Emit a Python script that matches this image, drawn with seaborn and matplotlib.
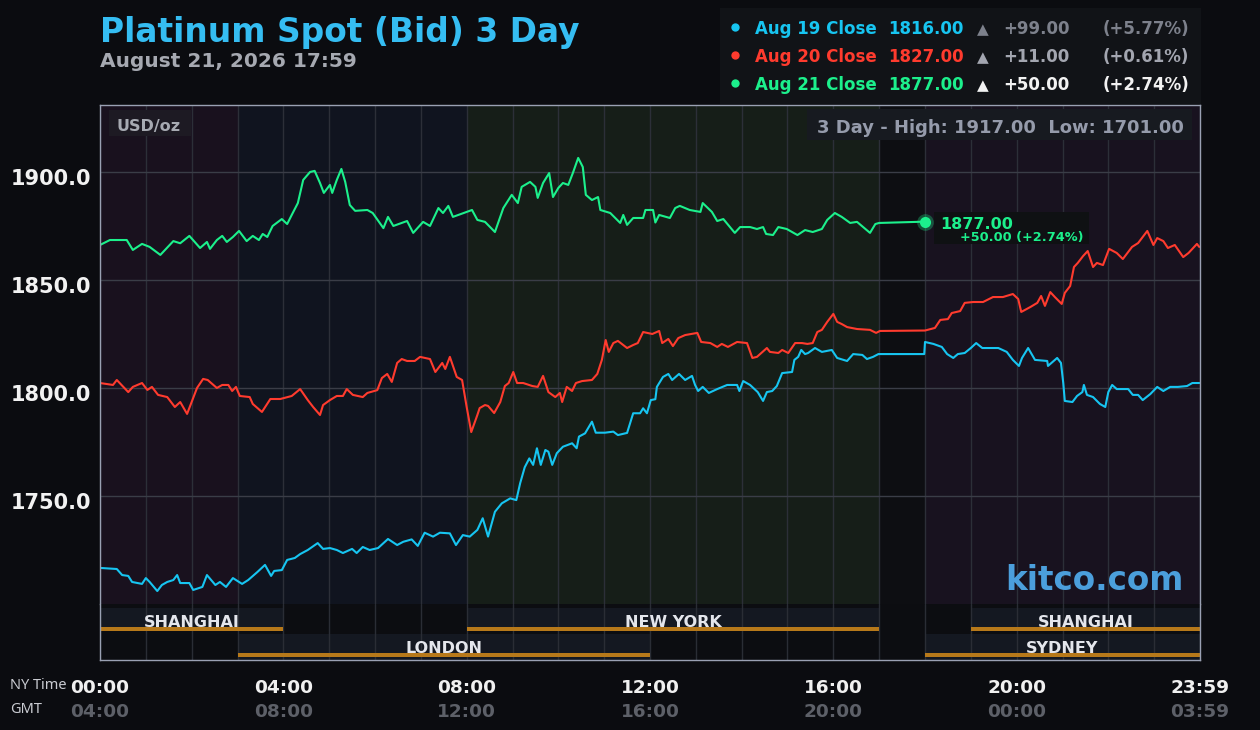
import numpy as np
import pandas as pd
import matplotlib
matplotlib.use("Agg")
import matplotlib.pyplot as plt
import seaborn as sns
from matplotlib.patches import Rectangle
from matplotlib.lines import Line2D
from matplotlib.transforms import ScaledTranslation, blended_transform_factory

# ------------------------------------------------------------
# data: minutes after NY midnight -> bid price (USD/oz)
# ------------------------------------------------------------
aug19_min = [0, 22, 29, 37, 42, 55, 60, 65, 75, 81,
             88, 96, 101, 105, 117, 122, 134, 140, 151, 157,
             165, 174, 186, 194, 206, 216, 224, 228, 238, 245,
             255, 262, 272, 285, 292, 301, 310, 318, 330, 336,
             344, 353, 364, 377, 389, 397, 408, 416, 425, 436,
             445, 458, 466, 475, 484, 494, 501, 508, 517, 526,
             537, 545, 550, 556, 562, 567, 572, 577, 583, 587,
             592, 598, 606, 618, 624, 627, 635, 644, 649, 661,
             672, 678, 690, 698, 707, 711, 716, 721, 727, 729,
             737, 744, 749, 758, 766, 775, 779, 783, 789, 797,
             808, 821, 834, 837, 842, 851, 861, 868, 873, 880,
             886, 893, 906, 909, 914, 918, 923, 927, 936, 945,
             958, 965, 978, 986, 998, 1004, 1012, 1019, 1079, 1080,
             1091, 1102, 1109, 1117, 1123, 1132, 1140, 1147, 1155, 1176,
             1187, 1195, 1203, 1207, 1215, 1224, 1240, 1241, 1253, 1258,
             1261, 1263, 1273, 1279, 1286, 1288, 1292, 1300, 1309, 1316,
             1320, 1325, 1331, 1346, 1352, 1359, 1365, 1375, 1384, 1392,
             1401, 1411, 1423, 1430, 1439]
aug19_bid = [1716.7, 1716.2, 1713.4, 1713.0, 1710.2, 1709.3, 1712.0, 1710.2, 1706.0, 1708.8,
             1710.2, 1711.1, 1713.4, 1709.7, 1709.7, 1706.5, 1707.9, 1713.4, 1708.8, 1710.2,
             1707.9, 1712.0, 1709.3, 1711.1, 1714.8, 1718.1, 1713.0, 1715.3, 1715.7, 1720.4,
             1721.3, 1723.1, 1725.0, 1728.2, 1725.5, 1725.9, 1725.0, 1723.6, 1725.5, 1723.6,
             1726.4, 1725.0, 1725.9, 1730.1, 1727.3, 1728.8, 1729.9, 1726.9, 1733.0, 1731.2,
             1733.0, 1732.7, 1727.3, 1731.9, 1731.2, 1734.3, 1739.7, 1731.2, 1742.7, 1746.6,
             1748.9, 1748.1, 1755.9, 1763.3, 1767.4, 1764.4, 1772.1, 1764.4, 1771.3, 1770.5,
             1764.4, 1769.8, 1772.8, 1774.4, 1772.1, 1777.5, 1779.0, 1784.4, 1779.3, 1779.3,
             1779.8, 1778.2, 1779.2, 1788.3, 1788.3, 1790.6, 1788.3, 1794.4, 1794.8, 1800.5,
             1805.1, 1806.5, 1803.7, 1806.5, 1803.7, 1805.6, 1801.4, 1798.6, 1800.5, 1797.7,
             1799.5, 1801.4, 1801.4, 1798.6, 1803.2, 1801.4, 1798.1, 1794.0, 1798.1, 1798.6,
             1800.9, 1806.9, 1807.4, 1813.0, 1814.4, 1817.6, 1815.7, 1816.2, 1818.5, 1816.7,
             1817.6, 1813.9, 1812.5, 1815.7, 1815.3, 1813.4, 1814.4, 1815.7, 1815.7, 1821.3,
             1820.4, 1819.0, 1815.7, 1813.9, 1815.7, 1816.2, 1818.5, 1820.8, 1818.5, 1818.5,
             1816.7, 1813.0, 1810.2, 1813.9, 1818.5, 1813.0, 1812.5, 1810.2, 1813.9, 1811.6,
             1802.3, 1794.0, 1793.5, 1796.3, 1798.1, 1801.4, 1796.8, 1795.8, 1792.6, 1791.2,
             1798.1, 1801.4, 1799.5, 1799.5, 1796.8, 1796.8, 1794.4, 1797.2, 1800.5, 1798.6,
             1800.5, 1800.5, 1800.9, 1802.3, 1802.3]

aug20_min = [0, 17, 22, 37, 43, 55, 62, 68, 76, 88,
             98, 105, 114, 127, 135, 141, 153, 160, 168, 173,
             178, 183, 196, 200, 212, 223, 236, 251, 262, 272,
             279, 288, 292, 301, 310, 318, 323, 331, 344, 350,
             363, 369, 376, 382, 389, 395, 402, 412, 419, 432,
             439, 448, 452, 458, 467, 474, 480, 486, 494, 497,
             504, 508, 516, 524, 530, 535, 541, 546, 554, 566,
             573, 580, 587, 596, 602, 605, 611, 618, 623, 631,
             644, 651, 657, 662, 666, 672, 678, 690, 698, 704,
             711, 723, 732, 736, 744, 750, 757, 766, 782, 787,
             799, 808, 814, 822, 834, 847, 854, 860, 873, 877,
             888, 893, 901, 910, 919, 926, 933, 939, 945, 952,
             960, 965, 971, 978, 991, 1008, 1016, 1021, 1080, 1093,
             1100, 1110, 1115, 1126, 1132, 1143, 1156, 1169, 1182, 1195,
             1202, 1206, 1218, 1227, 1232, 1237, 1244, 1250, 1259, 1263,
             1270, 1275, 1280, 1287, 1293, 1300, 1305, 1313, 1321, 1331,
             1339, 1351, 1359, 1371, 1379, 1384, 1392, 1398, 1407, 1418,
             1425, 1436, 1439]
aug20_bid = [1802.3, 1801.4, 1803.7, 1798.1, 1800.5, 1802.3, 1799.1, 1800.5, 1796.8, 1795.8,
             1791.2, 1793.5, 1788.0, 1800.0, 1804.2, 1803.7, 1800.0, 1801.4, 1801.4, 1798.6,
             1800.5, 1796.3, 1795.8, 1792.6, 1788.9, 1794.9, 1794.9, 1796.3, 1799.5, 1794.4,
             1791.2, 1787.5, 1792.1, 1794.4, 1796.3, 1796.3, 1799.5, 1796.8, 1795.8, 1797.7,
             1799.0, 1804.6, 1806.5, 1802.8, 1811.6, 1813.4, 1812.5, 1812.5, 1814.4, 1813.4,
             1807.4, 1811.6, 1808.8, 1814.4, 1805.1, 1803.7, 1791.2, 1779.6, 1787.5, 1790.7,
             1792.1, 1791.7, 1788.4, 1793.5, 1800.9, 1802.3, 1807.4, 1802.3, 1802.3, 1800.9,
             1800.5, 1805.6, 1798.1, 1795.8, 1797.7, 1793.5, 1800.5, 1798.6, 1802.3, 1803.2,
             1803.7, 1806.5, 1813.0, 1822.2, 1816.7, 1820.8, 1821.8, 1818.5, 1819.9, 1820.8,
             1825.9, 1825.0, 1826.4, 1820.8, 1822.7, 1819.4, 1823.1, 1824.5, 1825.5, 1821.3,
             1820.8, 1819.0, 1820.4, 1819.0, 1821.3, 1820.8, 1813.9, 1814.4, 1818.5, 1816.7,
             1816.2, 1817.6, 1816.2, 1820.8, 1820.8, 1820.4, 1820.8, 1825.9, 1826.9, 1830.6,
             1834.3, 1830.6, 1829.6, 1828.2, 1827.3, 1826.9, 1825.5, 1826.4, 1826.6, 1827.8,
             1831.5, 1831.9, 1834.7, 1835.6, 1839.4, 1839.8, 1839.8, 1842.1, 1842.1, 1843.5,
             1841.2, 1835.2, 1837.5, 1839.4, 1842.6, 1838.0, 1844.4, 1842.1, 1838.9, 1844.0,
             1847.2, 1856.0, 1857.9, 1861.1, 1863.4, 1856.0, 1857.9, 1856.9, 1864.4, 1862.5,
             1859.7, 1865.3, 1867.1, 1872.7, 1866.2, 1869.4, 1868.0, 1864.8, 1866.2, 1860.6,
             1862.5, 1866.7, 1865.3]

aug21_min = [0, 13, 35, 43, 55, 65, 79, 96, 105, 117,
             131, 140, 144, 153, 160, 166, 174, 182, 192, 200,
             208, 213, 219, 226, 238, 245, 251, 259, 266, 275,
             281, 288, 293, 301, 304, 310, 316, 321, 327, 334,
             350, 357, 371, 377, 384, 402, 410, 423, 432, 443,
             449, 456, 462, 480, 487, 494, 504, 517, 528, 539,
             547, 552, 563, 570, 573, 580, 588, 593, 600, 606,
             613, 619, 626, 632, 636, 644, 652, 655, 668, 681,
             685, 690, 698, 711, 714, 724, 727, 732, 746, 753,
             759, 772, 786, 789, 801, 808, 816, 831, 838, 851,
             860, 868, 872, 881, 888, 899, 913, 923, 933, 945,
             952, 962, 971, 982, 991, 999, 1008, 1015, 1020, 1080]
aug21_bid = [1866.2, 1868.5, 1868.5, 1863.9, 1866.7, 1865.3, 1861.6, 1868.0, 1867.0, 1870.4,
             1864.8, 1867.6, 1864.4, 1868.5, 1870.4, 1867.6, 1869.9, 1872.7, 1868.0, 1870.4,
             1868.5, 1871.3, 1869.9, 1875.0, 1878.2, 1875.9, 1880.1, 1885.6, 1896.3, 1900.0,
             1900.5, 1894.9, 1890.3, 1894.0, 1890.3, 1896.3, 1901.4, 1895.4, 1884.7, 1882.0,
             1882.4, 1881.0, 1874.0, 1879.2, 1875.0, 1877.3, 1871.8, 1876.9, 1875.0, 1883.3,
             1881.0, 1884.3, 1879.2, 1881.5, 1882.4, 1877.8, 1876.9, 1872.2, 1883.3, 1889.4,
             1885.6, 1893.1, 1895.4, 1893.1, 1888.0, 1894.9, 1899.5, 1888.4, 1892.6, 1894.9,
             1894.0, 1899.5, 1906.5, 1902.3, 1889.4, 1887.0, 1888.4, 1882.4, 1881.0, 1876.4,
             1880.1, 1875.5, 1878.7, 1878.7, 1882.4, 1882.4, 1876.6, 1880.1, 1878.7, 1883.3,
             1884.3, 1882.4, 1881.5, 1885.6, 1881.5, 1877.3, 1878.2, 1871.8, 1874.5, 1874.5,
             1873.6, 1874.5, 1871.3, 1870.8, 1874.5, 1873.6, 1870.8, 1873.1, 1872.2, 1873.6,
             1877.8, 1881.0, 1879.2, 1876.4, 1876.9, 1874.5, 1871.8, 1875.9, 1876.4, 1877.0]

days = ["Aug 19", "Aug 20", "Aug 21"]
day_close = [1816.00, 1827.00, 1877.00]
day_change = [99.00, 11.00, 50.00]
day_pct = [5.77, 0.61, 2.74]
high_3d, low_3d = 1917.00, 1701.00

y_ticks = [1750, 1800, 1850, 1900]
ny_hours = [0, 4, 8, 12, 16, 20, 24]
ny_labels = ["00:00", "04:00", "08:00", "12:00", "16:00", "20:00", "23:59"]
gmt_labels = ["04:00", "08:00", "12:00", "16:00", "20:00", "00:00", "03:59"]

zone_start = [0, 3, 8, 17, 18]
zone_end = [3, 8, 17, 18, 24]
session_names = ["SHANGHAI", "LONDON", "NEW YORK", "SYDNEY", "SHANGHAI"]
session_start = [0, 3, 8, 18, 19]
session_end = [4, 12, 17, 24, 24]
session_row = [1, 0, 1, 0, 1]   # 1 = upper row, 0 = lower row

# ------------------------------------------------------------
# style
# ------------------------------------------------------------
BG = "#0b0c10"
line_colors = ["#17c5f1", "#ff3b2e", "#1cf08c"]
zone_colors = ["#19111e", "#10141f", "#161e18", "#0d0e12", "#18121f"]
FRAME = "#9aa1b3"

sns.set_style("dark")
plt.rcParams['font.family'] = ['DejaVu Sans']

W, H = 1260, 730


def fx(x):
    return x / W


def fy(y):
    return 1 - y / H


fig = plt.figure(figsize=(12.6, 7.3), dpi=100, facecolor=BG)


def box(x0, y0, x1, y1, color):
    fig.add_artist(Rectangle((fx(x0), fy(y1)), (x1 - x0) / W, (y1 - y0) / H,
                             transform=fig.transFigure, facecolor=color,
                             edgecolor='none', zorder=2))


def label(x, y, s, **kw):
    kw.setdefault('va', 'baseline')
    kw.setdefault('fontweight', 'bold')
    fig.text(fx(x), fy(y), s, zorder=4, **kw)


ax = fig.add_axes([fx(100), fy(604), 1100 / W, 499 / H])
ax2 = fig.add_axes([fx(100), fy(660), 1100 / W, 56 / H], sharex=ax)

# ---- price panel ----
ax.set_facecolor(BG)
for s, e, c in zip(zone_start, zone_end, zone_colors):
    ax.axvspan(s, e, color=c, lw=0, zorder=0.1)

frames = []
for d, mins, bids in zip(days, [aug19_min, aug20_min, aug21_min],
                         [aug19_bid, aug20_bid, aug21_bid]):
    assert len(mins) == len(bids)
    frames.append(pd.DataFrame({'day': d, 'hour': np.array(mins) / 60.0, 'bid': bids}))
df = pd.concat(frames, ignore_index=True)

sns.lineplot(data=df, x='hour', y='bid', hue='day', palette=dict(zip(days, line_colors)),
             estimator=None, sort=False, legend=False, linewidth=1.5, ax=ax)

# last price marker
last_h = aug21_min[-1] / 60.0
ax.plot(last_h, aug21_bid[-1], 'o', ms=12, color=line_colors[2], alpha=0.3, mec='none', zorder=5)
ax.plot(last_h, aug21_bid[-1], 'o', ms=8, color=line_colors[2], mec='none', zorder=6)

ax.set_xlim(0, 24)
ax.set_ylim(1700, 1931)
ax.set_xticks(ny_hours)
ax.set_xticks(range(25), minor=True)
ax.set_axisbelow(True)
ax.grid(axis='x', which='both', color='#2c2f38', lw=1)
ax.grid(axis='y', color='#3a3d47', lw=1)
ax.set_yticks(y_ticks)
ax.set_yticklabels([f"{v:.1f}" for v in y_ticks])
ax.tick_params(axis='y', length=0, pad=6.5, labelsize=15, labelcolor='#f2f2f2')
ax.tick_params(axis='x', which='both', length=0, labelbottom=False)
for lab in ax.get_yticklabels():
    lab.set_fontweight('bold')
    lab.set_transform(lab.get_transform() + ScaledTranslation(0, -0.05, fig.dpi_scale_trans))
ax.set_xlabel("")
ax.set_ylabel("")
for side in ['left', 'top', 'right']:
    ax.spines[side].set_color(FRAME)
    ax.spines[side].set_linewidth(1)
ax.spines['bottom'].set_visible(False)

# ---- session panel ----
ax2.set_facecolor('#0c0d11')
ax2.set_ylim(0, 56)
ax2.set_yticks([])
for name, s, e, r in zip(session_names, session_start, session_end, session_row):
    y0, h, yo = (29, 23, 29) if r == 1 else (0, 26, 3)
    ax2.add_patch(Rectangle((s, y0), e - s, h, facecolor='#141821', edgecolor='none', zorder=0.2))
    ax2.add_patch(Rectangle((s, yo), e - s, 4, facecolor='#b7791a', edgecolor='none', zorder=0.8))
    ax2.text((s + e) / 2, yo + 4, name, ha='center', va='baseline', fontsize=11.5,
             fontweight='bold', color='#e4e6ec', zorder=4)
ax2.set_axisbelow(True)
ax2.grid(axis='x', which='both', color='#2a2d35', lw=1)
ax2.set_xticklabels(ny_labels)
ax2.tick_params(axis='x', which='both', length=0, pad=13.5, labelsize=13.3, labelcolor='#f0f0f0')
for lab in ax2.get_xticklabels():
    lab.set_fontweight('bold')
trans = blended_transform_factory(ax2.transData, fig.transFigure)
for h, g in zip(ny_hours, gmt_labels):
    ax2.text(h, fy(717), g, transform=trans, ha='center', va='baseline', fontsize=13.3,
             fontweight='bold', color='#5d6068', clip_on=False)
ax2.set_xlabel("")
for side in ['left', 'bottom', 'right']:
    ax2.spines[side].set_color(FRAME)
    ax2.spines[side].set_linewidth(1)
ax2.spines['top'].set_visible(False)

label(10, 689, "NY Time", family=['Noto Sans', 'DejaVu Sans'], fontweight='normal',
      fontsize=10.5, color='#c9cbd1')
label(10, 713, "GMT", family=['Noto Sans', 'DejaVu Sans'], fontweight='normal',
      fontsize=10.5, color='#c9cbd1')

# ---- titles ----
label(100, 41.7, "Platinum Spot (Bid) 3 Day", fontsize=23.7, color='#35bdf2')
label(100, 66.7, "August 21, 2026 17:59", fontsize=14.5, color='#a6a9b1')

# ---- legend block ----
box(720, 8, 1201, 104, '#111317')
row_grey = ['#7d818c', '#a3a6b0', '#f2f2f2']
for i, (d, cl, ch, pc, c) in enumerate(zip(days, day_close, day_change, day_pct, line_colors)):
    yb = 34 + 28 * i
    fig.add_artist(Line2D([fx(735)], [fy(yb - 7)], marker='o', ms=6, color=c, mec='none',
                          transform=fig.transFigure, zorder=4))
    label(755, yb, f"{d} Close", fontsize=12, color=c)
    label(888, yb, f"{cl:.2f}", fontsize=12, color=c)
    label(983, yb, "\u25b2", fontsize=11, color=row_grey[i], ha='center')
    label(1003, yb, f"+{ch:.2f}", fontsize=12, color=row_grey[i])
    label(1189, yb, f"(+{pc:.2f}%)", fontsize=12, color=row_grey[i], ha='right')

# ---- in-plot labels ----
box(109, 110, 191, 136, '#1d1a23')
label(116, 131, "USD/oz", fontsize=11.5, color='#a7aab2')
box(807, 109, 1192, 140, '#171a20')
label(1184, 133, f"3 Day - High: {high_3d:.2f}  Low: {low_3d:.2f}", fontsize=13,
      color='#959bab', ha='right')

box(934, 212, 1089, 244, '#0f1113')
label(940, 229, f"{aug21_bid[-1]:.2f}", fontsize=11.5, color=line_colors[2])
label(960, 241, f"+{day_change[2]:.2f} (+{day_pct[2]:.2f}%)", fontsize=9.3, color=line_colors[2])

label(1184, 590, "kitco.com", fontsize=23.5, color='#4b9fdc', ha='right')

fig.savefig("out.png", dpi=100, facecolor=BG)
